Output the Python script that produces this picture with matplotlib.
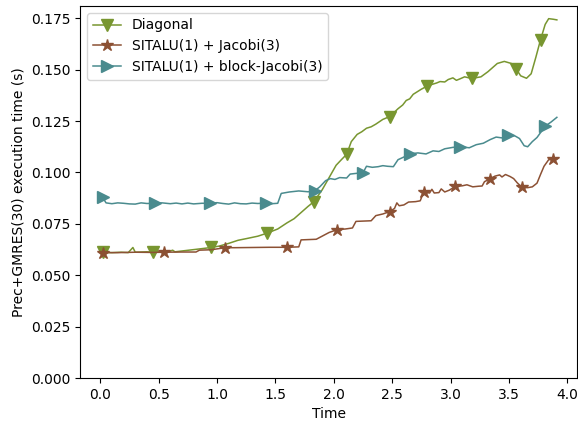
import numpy as np
import matplotlib
matplotlib.use("Agg")
import matplotlib.pyplot as plt

# execution time of preconditioner + GMRES(30) over simulated time
diag_t = [0.02, 0.10, 0.18, 0.24, 0.28, 0.30, 0.40, 0.45, 0.50, 0.58, 0.62, 0.64,
          0.70, 0.76, 0.85, 0.95, 1.02, 1.10, 1.18, 1.25, 1.35, 1.43, 1.52, 1.60,
          1.66, 1.72, 1.78, 1.83, 1.90, 1.96, 2.02, 2.07, 2.11, 2.15, 2.20, 2.24,
          2.28, 2.32, 2.36, 2.42, 2.48, 2.55, 2.59, 2.62, 2.65, 2.68, 2.75, 2.80,
          2.84, 2.88, 2.91, 2.95, 2.98, 3.02, 3.05, 3.08, 3.12, 3.18, 3.26, 3.32,
          3.40, 3.46, 3.52, 3.56, 3.60, 3.65, 3.69, 3.73, 3.77, 3.81, 3.84, 3.88,
          3.91]
diag_v = [0.0612, 0.0610, 0.0612, 0.0610, 0.0635, 0.0612, 0.0614, 0.0612, 0.0615,
          0.0613, 0.0622, 0.0614, 0.0618, 0.0622, 0.0628, 0.0635, 0.0642, 0.0655,
          0.0670, 0.0678, 0.0690, 0.0705, 0.0725, 0.0755, 0.0775, 0.0805, 0.0835,
          0.0858, 0.0915, 0.0975, 0.1035, 0.1065, 0.1088, 0.1150, 0.1185, 0.1198,
          0.1215, 0.1222, 0.1235, 0.1258, 0.1272, 0.1310, 0.1328, 0.1350, 0.1358,
          0.1380, 0.1405, 0.1420, 0.1428, 0.1435, 0.1442, 0.1440, 0.1452, 0.1460,
          0.1448, 0.1455, 0.1465, 0.1457, 0.1465, 0.1490, 0.1530, 0.1540, 0.1530,
          0.1505, 0.1470, 0.1458, 0.1480, 0.1560, 0.1645, 0.1720, 0.1748, 0.1745,
          0.1742]
diag_marks = [0.02, 0.45, 0.95, 1.43, 1.83, 2.11, 2.48, 2.80, 3.18, 3.56, 3.77]

jac_t = [0.02, 0.15, 0.30, 0.45, 0.55, 0.70, 0.82, 0.85, 0.95, 1.07, 1.15, 1.30,
         1.45, 1.60, 1.70, 1.72, 1.85, 1.90, 1.96, 2.03, 2.10, 2.16, 2.19, 2.32,
         2.36, 2.42, 2.48, 2.52, 2.54, 2.56, 2.60, 2.64, 2.70, 2.74, 2.77, 2.82,
         2.84, 2.86, 2.90, 2.92, 2.95, 2.99, 3.04, 3.10, 3.14, 3.19, 3.24, 3.27,
         3.29, 3.34, 3.38, 3.42, 3.44, 3.47, 3.51, 3.54, 3.57, 3.61, 3.66, 3.70,
         3.74, 3.77, 3.80, 3.84, 3.88, 3.90]
jac_v = [0.0610, 0.0610, 0.0612, 0.0611, 0.0612, 0.0613, 0.0613, 0.0622, 0.0624,
         0.0634, 0.0634, 0.0635, 0.0636, 0.0636, 0.0638, 0.0672, 0.0675, 0.0690,
         0.0708, 0.0722, 0.0725, 0.0730, 0.0762, 0.0765, 0.0790, 0.0798, 0.0810,
         0.0825, 0.0852, 0.0838, 0.0842, 0.0856, 0.0858, 0.0862, 0.0905, 0.0900,
         0.0918, 0.0900, 0.0902, 0.0920, 0.0905, 0.0914, 0.0932, 0.0935, 0.0940,
         0.0930, 0.0933, 0.0934, 0.0955, 0.0970, 0.0982, 0.0988, 0.0978, 0.0990,
         0.0980, 0.0970, 0.0950, 0.0928, 0.0926, 0.0930, 0.0948, 0.0990, 0.1030,
         0.1062, 0.1064, 0.1064]
jac_marks = [0.02, 0.55, 1.07, 1.60, 2.03, 2.48, 2.77, 3.04, 3.34, 3.61, 3.88]

bj_t = [0.02, 0.05, 0.10, 0.15, 0.20, 0.25, 0.30, 0.35, 0.40, 0.47, 0.53, 0.60,
        0.65, 0.70, 0.75, 0.80, 0.87, 0.94, 1.00, 1.05, 1.10, 1.15, 1.20, 1.25,
        1.30, 1.35, 1.42, 1.47, 1.52, 1.55, 1.62, 1.70, 1.78, 1.84, 1.88, 1.93,
        1.97, 2.01, 2.05, 2.11, 2.14, 2.20, 2.25, 2.28, 2.33, 2.38, 2.42, 2.46,
        2.51, 2.55, 2.60, 2.65, 2.72, 2.79, 2.85, 2.90, 2.95, 3.02, 3.08, 3.16,
        3.22, 3.28, 3.34, 3.39, 3.44, 3.49, 3.55, 3.59, 3.63, 3.66, 3.70, 3.74,
        3.81, 3.86, 3.91]
bj_v = [0.0880, 0.0852, 0.0848, 0.0852, 0.0850, 0.0847, 0.0846, 0.0852, 0.0849,
        0.0850, 0.0852, 0.0848, 0.0851, 0.0847, 0.0851, 0.0847, 0.0850, 0.0850,
        0.0853, 0.0849, 0.0846, 0.0852, 0.0848, 0.0847, 0.0851, 0.0849, 0.0851,
        0.0848, 0.0850, 0.0898, 0.0905, 0.0910, 0.0906, 0.0912, 0.0930, 0.0960,
        0.0970, 0.0966, 0.0975, 0.0973, 0.0992, 0.0996, 0.0998, 0.1030, 0.1025,
        0.1028, 0.1033, 0.1030, 0.1028, 0.1062, 0.1075, 0.1090, 0.1095, 0.1090,
        0.1105, 0.1102, 0.1115, 0.1122, 0.1125, 0.1120, 0.1135, 0.1142, 0.1160,
        0.1172, 0.1168, 0.1180, 0.1178, 0.1165, 0.1130, 0.1125, 0.1150, 0.1170,
        0.1225, 0.1245, 0.1268]
bj_marks = [0.02, 0.47, 0.94, 1.42, 1.84, 2.25, 2.65, 3.08, 3.49, 3.81]


def mark_idx(t, marks):
    t = np.asarray(t)
    return [int(np.argmin(np.abs(t - m))) for m in marks]


fig = plt.figure(figsize=(5.78, 4.21), dpi=100)
ax = fig.add_axes([0.139, 0.102, 0.860, 0.884])

ax.plot(diag_t, diag_v, color='#789630', lw=1.1, marker='v', ms=9,
        markevery=mark_idx(diag_t, diag_marks), label='Diagonal')
ax.plot(jac_t, jac_v, color='#8c5134', lw=1.1, marker='*', ms=9,
        markevery=mark_idx(jac_t, jac_marks), label='SITALU(1) + Jacobi(3)')
ax.plot(bj_t, bj_v, color='#4a8b8e', lw=1.1, marker='>', ms=9,
        markevery=mark_idx(bj_t, bj_marks), label='SITALU(1) + block-Jacobi(3)')

ax.set_xlim(-0.17, 4.086)
ax.set_ylim(0, 0.181)
ax.set_yticks(np.arange(0, 0.176, 0.025))
ax.set_xlabel('Time')
ax.set_ylabel('Prec+GMRES(30) execution time (s)')
ax.legend(loc='upper left')

fig.savefig('out.png', dpi=100)
